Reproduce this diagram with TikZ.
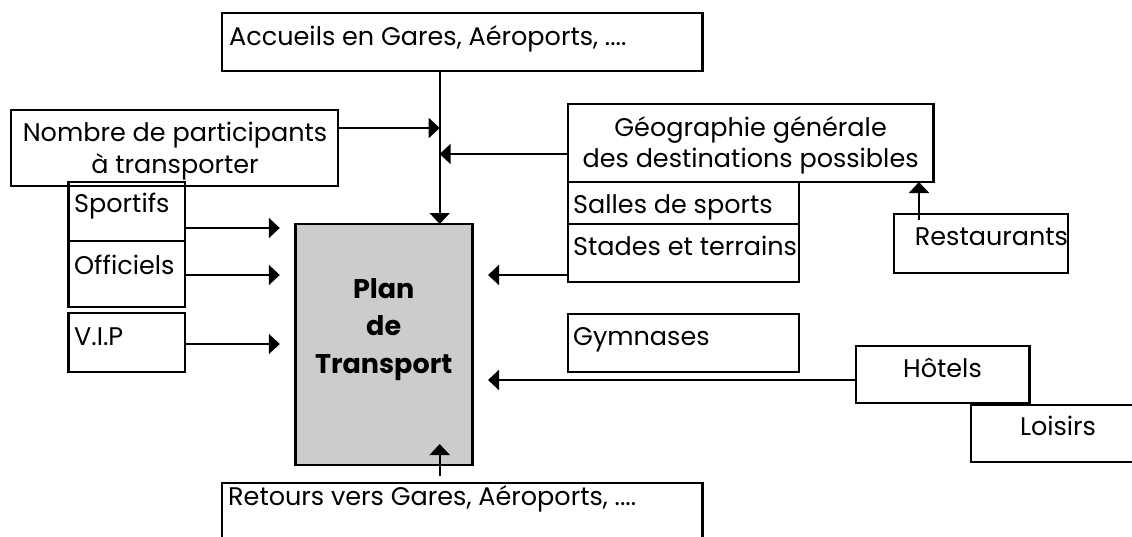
\documentclass[tikz,border=0pt]{standalone}
\usepackage{fontspec}
\setmainfont{Poppins}
\usetikzlibrary{arrows.meta}
% box from its top-left corner (x1,y1) to its bottom-right corner (x2,y2)
\newcommand\boxat[5]{\node[box, minimum width={(#4-#2)*1pt}, minimum height={(#5-#3)*1pt}] (#1) at (#2,#3) {};}
\begin{document}
\begin{tikzpicture}[x=1pt,y=-1pt,
  box/.style={draw, line width=2.6pt, inner sep=0pt, outer sep=0pt, anchor=north west},
  txt/.style={inner sep=0pt, font=\fontsize{25.5}{30}\selectfont},
  lbl/.style={txt, anchor=base west},
  clbl/.style={txt, anchor=base},
  arr/.style={line width=2pt, -{Triangle[length=11pt,width=20pt]}},
]
\useasboundingbox (0,0) rectangle (1132,536);
\clip (0,0) rectangle (1132,536);

% boxes
\boxat{accueils}{222}{13}{702.5}{71}
\boxat{nombre}{10.8}{110}{338}{186}
\boxat{sportifs}{68.6}{182}{184.8}{241}
\boxat{officiels}{68.6}{241}{184.8}{307}
\boxat{vip}{68.6}{313}{184.8}{372}
\node[box, fill=black!20, minimum width=176.9pt, minimum height=241pt] (plan) at (295.3,224) {};
\boxat{geo}{567.8}{104}{933.5}{182}
\boxat{salles}{567.8}{182}{798.9}{224}
\boxat{stades}{567.8}{224}{798.9}{282}
\boxat{resto}{893.8}{214}{1067.8}{273}
\boxat{gym}{567.8}{314}{798.9}{372}
\boxat{hotels}{855.9}{346}{1029.2}{403}
\boxat{loisirs}{971}{405}{1180}{462}
\boxat{retours}{222}{483}{702.5}{560}

% texts
\node[lbl] (t-accueils) at (229,45) {Accueils en Gares, Aéroports, ....};
\node[clbl] (t-nombre1) at (175,141) {Nombre de participants};
\node[clbl] (t-nombre2) at (175,173) {à transporter};
\node[lbl] (t-sportifs) at (74,212) {Sportifs};
\node[lbl] (t-officiels) at (74,274) {Officiels};
\node[lbl] (t-vip) at (74,345) {V.I.P};
\node[clbl, font=\fontsize{27}{37.5}\selectfont\bfseries, align=center] (t-plan) at (383.7,373) {Plan\\de\\Transport};
\node[clbl] (t-geo1) at (750.6,136) {Géographie générale};
\node[clbl] (t-geo2) at (750.6,167) {des destinations possibles};
\node[lbl] (t-salles) at (573,213) {Salles de sports};
\node[lbl] (t-stades) at (573,255) {Stades et terrains};
\node[lbl] (t-resto) at (914.7,245) {Restaurants};
\node[lbl] (t-gym) at (573,345) {Gymnases};
\node[clbl] (t-hotels) at (942.5,377) {Hôtels};
\node[clbl] (t-loisirs) at (1058,435) {Loisirs};
\node[lbl] (t-retours) at (228,505) {Retours vers Gares, Aéroports, ....};

% connectors
\coordinate (vx) at (439.7,0);
\coordinate (lft) at (279.8,0);
\coordinate (rgt) at (488,0);
\coordinate (ret-start) at (439.7,476);
\coordinate (ret-end) at (439.7,444);
\coordinate (resto-start) at (919,220);
\draw[arr] (accueils.south -| vx) -- (plan.north -| vx);
\draw[arr] ([yshift=20pt]nombre.east) -- ([yshift=20pt]nombre.east -| vx);
\draw[arr] ([yshift=-11pt]geo.west) -- ([yshift=-11pt]geo.west -| vx);
\draw[arr] ([yshift=-16.5pt]sportifs.east) -- ([yshift=-16.5pt]sportifs.east -| lft);
\draw[arr] ([yshift=-1pt]officiels.east) -- ([yshift=-1pt]officiels.east -| lft);
\draw[arr] ([yshift=-1.5pt]vip.east) -- ([yshift=-1.5pt]vip.east -| lft);
\draw[arr] ([yshift=-22pt]stades.west) -- ([yshift=-22pt]stades.west -| rgt);
\draw[arr] ([yshift=-5.5pt]hotels.west) -- ([yshift=-5.5pt]hotels.west -| rgt);
\draw[arr] (resto-start) -- (resto-start |- geo.south);
\draw[arr] (ret-start) -- (ret-end);
\end{tikzpicture}
\end{document}
